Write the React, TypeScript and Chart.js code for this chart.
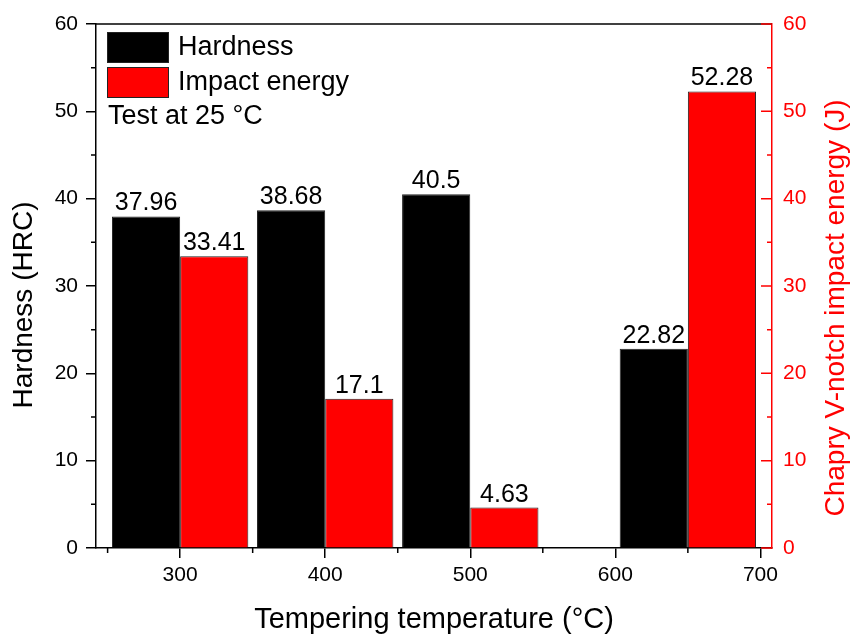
import { useEffect, useRef } from 'react';
import { Chart, registerables } from 'chart.js';

Chart.register(...registerables);

// Tempering temperatures (°C) and the measured properties at each one
const temperatures = [300, 400, 500, 650];
const hardness = [37.96, 38.68, 40.5, 22.82];
const impactEnergy = [33.41, 17.1, 4.63, 52.28];

// Axis ticks
const xMajorTicks = [300, 400, 500, 600, 700];
const xMinorTicks = [250, 350, 450, 550, 650];
const yMinorTicks = [5, 15, 25, 35, 45, 55];
const yMajorTicks = [0, 10, 20, 30, 40, 50, 60];

const seriesNames = ['Hardness', 'Impact energy'];
const noteText = 'Test at 25 °C';
const xTitle = 'Tempering temperature (°C)';
const yLeftTitle = 'Hardness (HRC)';
const yRightTitle = 'Chapry V-notch impact energy (J)';

const FONT = "'Liberation Sans', Arial, Helvetica, sans-serif";
const RED = '#ff0000';
const BLACK = '#000000';
const EDGE = '#222222';

// Top frame line, minor ticks, inward ticks of the red right-hand axis, vertical titles
const axisDecor = {
  id: 'axisDecor',
  afterDraw(chart: any) {
    const { ctx, chartArea } = chart;
    const { left, right, top, bottom } = chartArea;
    const xs = chart.scales.x;
    const yl = chart.scales.y;
    const yr = chart.scales.y1;
    ctx.save();
    ctx.lineWidth = 1.5;

    ctx.strokeStyle = BLACK;
    ctx.beginPath();
    ctx.moveTo(left, top);
    ctx.lineTo(right, top);
    ctx.stroke();

    ctx.beginPath();
    for (const v of yMinorTicks) {
      const y = yl.getPixelForValue(v);
      ctx.moveTo(left - 5, y);
      ctx.lineTo(left, y);
    }
    for (const v of xMinorTicks) {
      const x = xs.getPixelForValue(v);
      ctx.moveTo(x, bottom);
      ctx.lineTo(x, bottom + 5);
    }
    ctx.stroke();

    ctx.strokeStyle = RED;
    ctx.beginPath();
    for (const v of yMajorTicks) {
      const y = yr.getPixelForValue(v);
      ctx.moveTo(right, y);
      ctx.lineTo(right - 11, y);
    }
    for (const v of yMinorTicks) {
      const y = yr.getPixelForValue(v);
      ctx.moveTo(right, y);
      ctx.lineTo(right - 5, y);
    }
    ctx.stroke();

    // vertical axis titles, both reading bottom to top
    ctx.font = `28px ${FONT}`;
    ctx.textAlign = 'center';
    ctx.textBaseline = 'middle';
    const drawVertical = (text: string, x: number, y: number, color: string) => {
      ctx.save();
      ctx.fillStyle = color;
      ctx.translate(x, y);
      ctx.rotate(-Math.PI / 2);
      ctx.fillText(text, 0, 0);
      ctx.restore();
    };
    drawVertical(yLeftTitle, left - 72, top + 281, BLACK);
    drawVertical(yRightTitle, right + 64, top + 284, RED);
    ctx.restore();
  },
};

// Value printed above each bar
const barValues = {
  id: 'barValues',
  afterDatasetsDraw(chart: any) {
    const { ctx } = chart;
    ctx.save();
    ctx.fillStyle = BLACK;
    ctx.font = `25px ${FONT}`;
    ctx.textAlign = 'center';
    ctx.textBaseline = 'alphabetic';
    chart.data.datasets.forEach((ds: any, di: number) => {
      const meta = chart.getDatasetMeta(di);
      meta.data.forEach((bar: any, i: number) => {
        ctx.fillText(String(ds.data[i].y), bar.x, bar.y - 6);
      });
    });
    ctx.restore();
  },
};

// Legend boxes and the test-condition note inside the plot
const innerLegend = {
  id: 'innerLegend',
  afterDraw(chart: any) {
    const { ctx, chartArea } = chart;
    const { left, top } = chartArea;
    ctx.save();
    ctx.font = `27px ${FONT}`;
    ctx.textBaseline = 'middle';
    ctx.textAlign = 'left';
    chart.data.datasets.forEach((ds: any, i: number) => {
      const bx = left + 11;
      const by = top + 8 + i * 35;
      ctx.fillStyle = ds.backgroundColor;
      ctx.fillRect(bx, by, 62, 31);
      ctx.strokeStyle = EDGE;
      ctx.lineWidth = 1;
      ctx.strokeRect(bx + 0.5, by + 0.5, 61, 30);
      ctx.fillStyle = BLACK;
      ctx.fillText(ds.label, bx + 71, by + 16);
    });
    ctx.fillStyle = BLACK;
    ctx.fillText(noteText, left + 12, top + 93);
    ctx.restore();
  },
};

export default function App() {
  const canvasRef = useRef<HTMLCanvasElement | null>(null);

  useEffect(() => {
    const canvas = canvasRef.current;
    if (!canvas) return;

    const chart = new Chart(canvas, {
      type: 'bar',
      data: {
        datasets: [
          {
            label: seriesNames[0],
            data: temperatures.map((t, i) => ({ x: t, y: hardness[i] })),
            backgroundColor: BLACK,
            borderColor: EDGE,
            borderWidth: 1,
            yAxisID: 'y',
            categoryPercentage: 0.94,
            barPercentage: 1,
          },
          {
            label: seriesNames[1],
            data: temperatures.map((t, i) => ({ x: t, y: impactEnergy[i] })),
            backgroundColor: RED,
            borderColor: EDGE,
            borderWidth: 1,
            yAxisID: 'y1',
            categoryPercentage: 0.94,
            barPercentage: 1,
          },
        ],
      },
      options: {
        responsive: false,
        animation: false,
        layout: { padding: { top: 24, left: 0, right: 0, bottom: 0 } },
        plugins: {
          legend: { display: false },
          tooltip: { enabled: false },
        },
        scales: {
          x: {
            type: 'linear',
            min: 242,
            max: 708,
            offset: false,
            afterBuildTicks: (s: any) => {
              s.ticks = xMajorTicks.map((v) => ({ value: v }));
            },
            afterFit: (s: any) => {
              s.height = 89;
            },
            grid: {
              offset: false,
              drawOnChartArea: false,
              drawTicks: true,
              tickLength: 10,
              color: BLACK,
              lineWidth: 1.5,
            },
            border: { display: true, color: BLACK, width: 1.5 },
            ticks: {
              color: BLACK,
              font: { family: FONT, size: 21 },
              padding: 5,
              maxRotation: 0,
              autoSkip: false,
            },
            title: {
              display: true,
              text: xTitle,
              color: BLACK,
              font: { family: FONT, size: 29, lineHeight: 1.2 },
              padding: { top: 0, bottom: 0 },
            },
          },
          y: {
            position: 'left',
            min: 0,
            max: 60,
            afterFit: (s: any) => {
              s.width = 96;
            },
            grid: {
              drawOnChartArea: false,
              drawTicks: true,
              tickLength: 10,
              color: BLACK,
              lineWidth: 1.5,
            },
            border: { display: true, color: BLACK, width: 1.5 },
            ticks: {
              stepSize: 10,
              color: BLACK,
              font: { family: FONT, size: 21 },
              padding: 8,
            },
          },
          y1: {
            position: 'right',
            min: 0,
            max: 60,
            afterFit: (s: any) => {
              s.width = 79;
            },
            grid: { drawOnChartArea: false, drawTicks: false },
            border: { display: true, color: RED, width: 1.5 },
            ticks: {
              stepSize: 10,
              color: RED,
              font: { family: FONT, size: 21 },
              padding: 11,
            },
          },
        },
      },
      plugins: [axisDecor, barValues, innerLegend],
    } as any);

    return () => {
      chart.destroy();
    };
  }, []);

  return (
    <div
      style={{
        position: 'fixed',
        left: 0,
        top: 0,
        width: 851,
        height: 637,
        background: '#ffffff',
      }}
    >
      <canvas ref={canvasRef} width={851} height={637} style={{ display: 'block' }} />
    </div>
  );
}
